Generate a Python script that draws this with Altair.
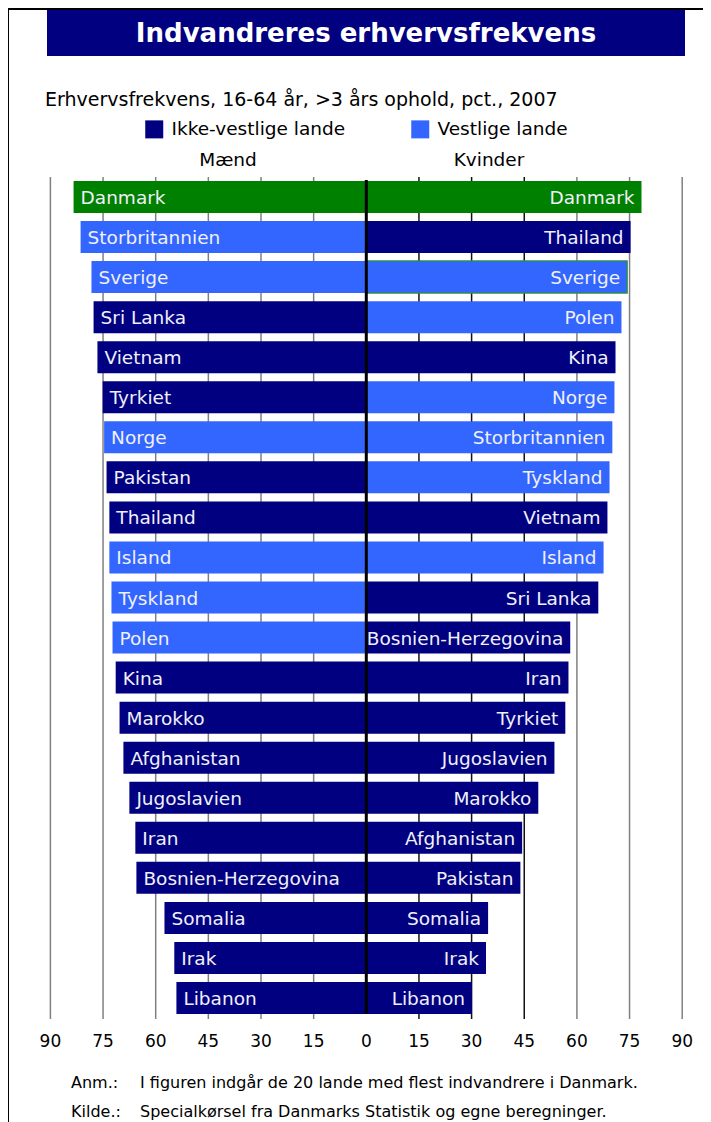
import altair as alt
import pandas as pd

# ---------------- data ----------------
title_text = "Indvandreres erhvervsfrekvens"
subtitle_text = "Erhvervsfrekvens, 16-64 år, >3 års ophold, pct., 2007"
legend_labels = ["Ikke-vestlige lande", "Vestlige lande"]
side_labels = ["Mænd", "Kvinder"]
note_keys = ["Anm.:", "Kilde.:"]
note_texts = [
    "I figuren indgår de 20 lande med flest indvandrere i Danmark.",
    "Specialkørsel fra Danmarks Statistik og egne beregninger.",
]

countries_m = ["Danmark", "Storbritannien", "Sverige", "Sri Lanka", "Vietnam", "Tyrkiet",
               "Norge", "Pakistan", "Thailand", "Island", "Tyskland", "Polen", "Kina",
               "Marokko", "Afghanistan", "Jugoslavien", "Iran", "Bosnien-Herzegovina",
               "Somalia", "Irak", "Libanon"]
values_m = [83.4, 81.4, 78.3, 77.7, 76.6, 75.1, 74.7, 74.0, 73.2, 73.2, 72.6, 72.3, 71.4,
            70.3, 69.2, 67.5, 65.8, 65.5, 57.5, 54.7, 54.1]

countries_k = ["Danmark", "Thailand", "Sverige", "Polen", "Kina", "Norge", "Storbritannien",
               "Tyskland", "Vietnam", "Island", "Sri Lanka", "Bosnien-Herzegovina", "Iran",
               "Tyrkiet", "Jugoslavien", "Marokko", "Afghanistan", "Pakistan", "Somalia",
               "Irak", "Libanon"]
values_k = [78.4, 75.3, 74.3, 72.7, 71.0, 70.7, 70.1, 69.3, 68.7, 67.6, 66.1, 58.1, 57.6,
            56.7, 53.6, 49.0, 44.4, 43.9, 34.7, 34.1, 30.1]

western = ["Storbritannien", "Sverige", "Norge", "Island", "Tyskland", "Polen"]
tick_values = [-90, -75, -60, -45, -30, -15, 0, 15, 30, 45, 60, 75, 90]

# ---------------- geometry ----------------
W, H = 695, 1114
PX = 3.51          # pixels per percentage point
X0 = 358.3         # pixel of zero
ROW0, ROWPITCH = 189.0, 40.05
x_dom = [-X0 / PX, (W - X0) / PX]
y_dom = [-ROW0 / ROWPITCH, (H - ROW0) / ROWPITCH]
xscale = alt.Scale(domain=x_dom, nice=False, zero=False)
yscale = alt.Scale(domain=y_dom, nice=False, zero=False, reverse=True)

FONT = "DejaVu Sans"
NAVY, LIGHT, GREEN = "#000080", "#3366ff", "#008000"


def grp(c):
    if c == "Danmark":
        return "Danmark"
    return "Vestlige lande" if c in western else "Ikke-vestlige lande"


recs = []
for i, (c, v) in enumerate(zip(countries_m, values_m)):
    recs.append(dict(row=i, side="M", country=c, value=v, sx=-v, zero=0,
                     grp=grp(c), outline=False))
for i, (c, v) in enumerate(zip(countries_k, values_k)):
    recs.append(dict(row=i, side="K", country=c, value=v, sx=v, zero=0,
                     grp=grp(c), outline=(c == "Sverige")))
bars_df = pd.DataFrame(recs)
ticks_df = pd.DataFrame({"t": tick_values})
grid_df = pd.DataFrame({"t": [t for t in tick_values if t != 0]})

color = alt.Color(
    "grp:N",
    scale=alt.Scale(domain=["Ikke-vestlige lande", "Vestlige lande", "Danmark"],
                    range=[NAVY, LIGHT, GREEN]),
    legend=alt.Legend(
        values=legend_labels, title=None, orient="none", legendX=137, legendY=112,
        direction="horizontal", symbolType="square", symbolSize=324,
        symbolStrokeWidth=0, labelFontSize=18.5, labelFont=FONT, labelOffset=8,
        labelLimit=400, columnPadding=65, padding=0, labelColor="#000000",
    ),
)


def one(text=""):
    return pd.DataFrame({"t": [text]})


# frame lines
frame_top = alt.Chart(one()).mark_rule(color="black", strokeWidth=2).encode(
    x=alt.value(0), x2=alt.value(W), y=alt.value(1))
frame_left = alt.Chart(one()).mark_rule(color="black", strokeWidth=2).encode(
    x=alt.value(0), y=alt.value(0), y2=alt.value(H))

# banner + title
banner = alt.Chart(one()).mark_rect(color=NAVY).encode(
    x=alt.value(39), x2=alt.value(677), y=alt.value(2), y2=alt.value(48))
title = alt.Chart(one(title_text)).mark_text(
    font=FONT, fontSize=26, fontWeight="bold", color="white", align="center",
    baseline="alphabetic").encode(x=alt.value(358), y=alt.value(34), text="t:N")
subtitle = alt.Chart(one(subtitle_text)).mark_text(
    font=FONT, fontSize=19, color="black", align="left", baseline="alphabetic").encode(
    x=alt.value(37), y=alt.value(98), text="t:N")
maend = alt.Chart(one(side_labels[0])).mark_text(
    font=FONT, fontSize=18.5, color="black", align="center", baseline="middle").encode(
    x=alt.value(220), y=alt.value(152), text="t:N")
kvinder = alt.Chart(one(side_labels[1])).mark_text(
    font=FONT, fontSize=18.5, color="black", align="center", baseline="middle").encode(
    x=alt.value(481), y=alt.value(152), text="t:N")

# grid
grid = alt.Chart(grid_df).mark_rule(strokeWidth=1.5).encode(
    x=alt.X("t:Q", scale=xscale, axis=None),
    y=alt.value(169), y2=alt.value(1011),
    color=alt.condition("datum.t > 0 && datum.t < 60", alt.value("#111111"), alt.value("#808080")),
)

bars = alt.Chart(bars_df).mark_rect(stroke="#2e8b57").transform_calculate(
    y0="datum.row - 0.4", y1="datum.row + 0.4").encode(
    x=alt.X("sx:Q", scale=xscale, axis=None),
    x2="zero:Q",
    y=alt.Y("y0:Q", scale=yscale, axis=None),
    y2="y1:Q",
    color=color,
    strokeWidth=alt.condition("datum.outline", alt.value(1.5), alt.value(0)),
)

lab_m = alt.Chart(bars_df).transform_filter("datum.side == 'M'").mark_text(
    font=FONT, fontSize=18.5, color="#f0f0f8", align="left", baseline="middle", dx=7, dy=1).encode(
    x=alt.X("sx:Q", scale=xscale, axis=None),
    y=alt.Y("row:Q", scale=yscale, axis=None),
    text="country:N")
lab_k = alt.Chart(bars_df).transform_filter("datum.side == 'K'").mark_text(
    font=FONT, fontSize=18.5, color="#f0f0f8", align="right", baseline="middle", dx=-7, dy=1).encode(
    x=alt.X("sx:Q", scale=xscale, axis=None),
    y=alt.Y("row:Q", scale=yscale, axis=None),
    text="country:N")

center = alt.Chart(pd.DataFrame({"t": [0]})).mark_rule(color="black", strokeWidth=3).encode(
    x=alt.X("t:Q", scale=xscale, axis=None), y=alt.value(172), y2=alt.value(1006))

tick_labels = alt.Chart(ticks_df).transform_calculate(lab="abs(datum.t)").mark_text(
    font=FONT, fontSize=17, color="black", align="center", baseline="alphabetic").encode(
    x=alt.X("t:Q", scale=xscale, axis=None), y=alt.value(1039), text="lab:Q")

note_layers = []
for k, t, yb in zip(note_keys, note_texts, [1080, 1109]):
    df = pd.DataFrame({"k": [k], "t": [t]})
    note_layers.append(alt.Chart(df).mark_text(
        font=FONT, fontSize=16, color="black", align="left", baseline="alphabetic").encode(
        x=alt.value(63), y=alt.value(yb), text="k:N"))
    note_layers.append(alt.Chart(df).mark_text(
        font=FONT, fontSize=16, color="black", align="left", baseline="alphabetic").encode(
        x=alt.value(132), y=alt.value(yb), text="t:N"))

chart = alt.layer(
    frame_top, frame_left, banner, title, subtitle, maend, kvinder,
    grid, bars, lab_m, lab_k, center, tick_labels, *note_layers,
).properties(
    width=W, height=H, padding=0, autosize=alt.AutoSizeParams(type="none"),
    background="white",
).configure_view(strokeWidth=0)

chart.save("out.html", embed_options={"renderer": "svg", "actions": False})
